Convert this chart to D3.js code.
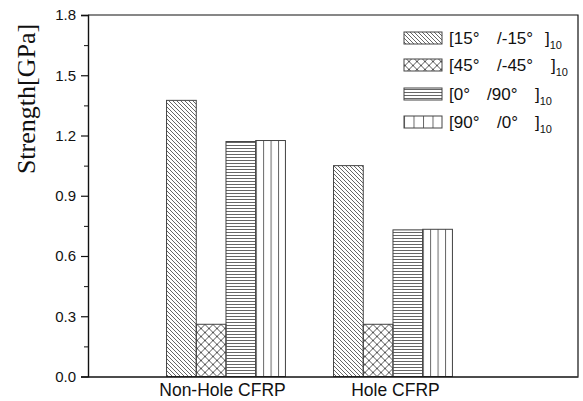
<!DOCTYPE html>
<html><head><meta charset="utf-8">
<script src="https://cdn.jsdelivr.net/npm/d3@7"></script>
<style>html,body{margin:0;padding:0;background:#fff;}svg{display:block;}</style>
</head><body>
<svg id="c" width="583" height="401"></svg>
<script>
const categories = ["Non-Hole CFRP", "Hole CFRP"];
const seriesNames = ["[15°   /-15°   ]", "[45°   /-45°   ]", "[0°   /90°   ]", "[90°   /0°   ]"];
const seriesA = ["[15°", "[45°", "[0°", "[90°"];
const seriesB = ["/-15°", "/-45°", "/90°", "/0°"];
const seriesSub = ["10", "10", "10", "10"];
const v15 = [1.375, 1.05];
const v45 = [0.26, 0.26];
const v0_90 = [1.17, 0.73];
const v90_0 = [1.175, 0.733];
const yTicks = [0.0, 0.3, 0.6, 0.9, 1.2, 1.5, 1.8];
const yMinor = [0.15, 0.45, 0.75, 1.05, 1.35, 1.65];

const series = [v15, v45, v0_90, v90_0];
const svg = d3.select("#c");
const L = 88, R = 578, T = 15, B = 376.5;
const x = d3.scaleLinear().domain([0.1737, 3.108]).range([L, R]);
const y = d3.scaleLinear().domain([0, 1.8]).range([B, T]);
const bw = 0.178;

const defs = svg.append("defs");
// diagonal "\"
let p = defs.append("pattern").attr("id","pat0").attr("patternUnits","userSpaceOnUse").attr("width",4).attr("height",4);
p.append("path").attr("d","M-1,-1L5,5M3,-1L5,1M-1,3L1,5").attr("stroke","#555").attr("stroke-width",0.9).attr("fill","none");
// cross
p = defs.append("pattern").attr("id","pat1").attr("patternUnits","userSpaceOnUse").attr("width",8).attr("height",8).attr("x",1).attr("y",0.5);
p.append("path").attr("d","M0,0L8,8M8,0L0,8").attr("stroke","#444").attr("stroke-width",0.9).attr("fill","none");
// horizontal
p = defs.append("pattern").attr("id","pat2").attr("patternUnits","userSpaceOnUse").attr("width",4).attr("height",3);
p.append("path").attr("d","M0,1.5L4,1.5").attr("stroke","#666").attr("stroke-width",1).attr("fill","none");
// vertical
p = defs.append("pattern").attr("id","pat3").attr("patternUnits","objectBoundingBox").attr("width",0.25).attr("height",1);
p.append("path").attr("d","M0.5,0L0.5,1000").attr("stroke","#666").attr("stroke-width",1).attr("fill","none");

// bars
series.forEach((vals, si) => {
  svg.append("g").selectAll("rect").data(vals).join("rect")
    .attr("x", (d,i) => x(i + 1 + (si - 2) * bw))
    .attr("y", d => y(d))
    .attr("width", x(bw) - x(0))
    .attr("height", d => y(0) - y(d))
    .attr("fill", `url(#pat${si})`)
    .attr("stroke", "#444").attr("stroke-width", 1);
});

// frame
svg.append("path").attr("d", `M${L},${T}H${R}V${B}`).attr("fill","none").attr("stroke","#111").attr("stroke-width",1.2);

// y axis
const yAxis = d3.axisLeft(y).tickValues(yTicks).tickFormat(d3.format(".1f")).tickSize(7).tickPadding(5);
const gy = svg.append("g").attr("transform", `translate(${L},0)`).call(yAxis);
gy.select(".domain").attr("stroke","#111").attr("stroke-width",1.4);
gy.selectAll(".tick line").attr("stroke","#111").attr("stroke-width",1.2);
gy.selectAll("text").attr("font-family","Arial, 'Liberation Sans', sans-serif").attr("font-size",15).attr("fill","#111");
const gm = svg.append("g").attr("transform", `translate(${L},0)`).call(d3.axisLeft(y).tickValues(yMinor).tickFormat("").tickSize(4));
gm.select(".domain").remove();
gm.selectAll(".tick line").attr("stroke","#111").attr("stroke-width",1);

// x axis
const xAxis = d3.axisBottom(x).tickValues([1,2]).tickFormat((d) => categories[d-1]).tickSize(0).tickPadding(7);
const gx = svg.append("g").attr("transform", `translate(0,${B})`).call(xAxis);
gx.select(".domain").attr("stroke","#111").attr("stroke-width",1.4);
gx.selectAll("text").attr("font-family","Arial, 'Liberation Sans', sans-serif").attr("font-size",17.5).attr("fill","#111")
  .attr("dx", (d) => d === 1 ? -4 : 2).attr("dy", "0.71em");

// y label
svg.append("text").attr("transform","translate(35,99) rotate(-90)").attr("text-anchor","middle")
  .attr("font-family","'Liberation Serif', 'Times New Roman', serif").attr("font-size",26).attr("fill","#111")
  .text("Strength[GPa]");

// legend
const lg = svg.append("g");
const rowY = [38, 65, 94, 122];
const offB = [48, 48, 38, 48];
const offC = [96, 102, 86, 86];
seriesNames.forEach((name, i) => {
  const g = lg.append("g").attr("transform", `translate(404,${rowY[i]})`);
  g.append("rect").attr("x",0).attr("y",-6).attr("width",38).attr("height",12)
    .attr("fill",`url(#pat${i})`).attr("stroke","#444").attr("stroke-width",1);
  const t = g.append("text").attr("y",6).attr("font-family","Arial, 'Liberation Sans', sans-serif").attr("font-size",17).attr("fill","#111");
  t.append("tspan").attr("x",45).text(seriesA[i]);
  t.append("tspan").attr("x",45 + offB[i]).text(seriesB[i]);
  t.append("tspan").attr("x",45 + offC[i]).text("]");
  t.append("tspan").attr("dy",5).attr("font-size",11).text(seriesSub[i]);
});
</script>
</body></html>
